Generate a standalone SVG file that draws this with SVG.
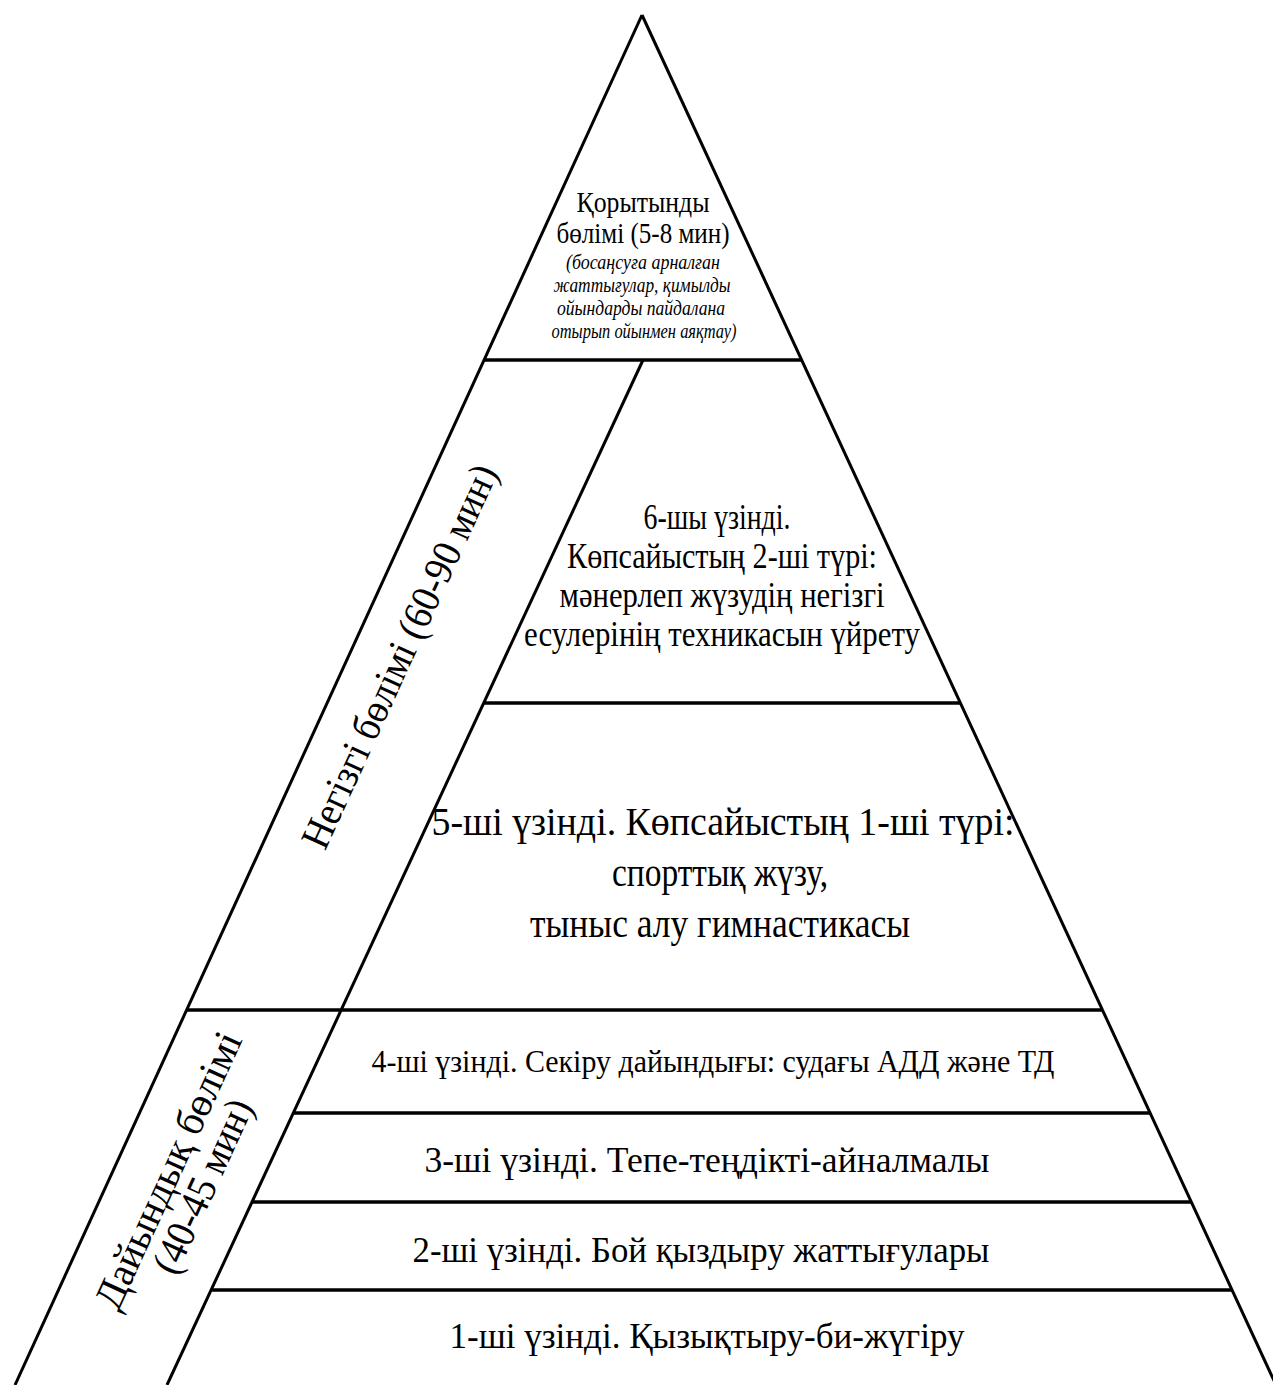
<svg xmlns="http://www.w3.org/2000/svg" width="1273" height="1385" viewBox="0 0 1273 1385">
  <style>
    .ln { stroke: #000; stroke-width: 3; fill: none; stroke-linecap: butt; }
    .hl { stroke: #000; stroke-width: 3.5; fill: none; }
    .t { font-family: "Liberation Serif", "Times New Roman", serif; fill: #000; text-anchor: middle; }
    .it { font-family: "Liberation Serif", "Times New Roman", serif; font-style: italic; fill: #000; text-anchor: middle; }
  </style>
  <rect x="0" y="0" width="1273" height="1385" fill="#fff"/>
  <g id="connectors">
    <line class="ln" x1="642" y1="15" x2="15" y2="1385"/>
    <line class="ln" x1="642" y1="15" x2="1276" y2="1385"/>
    <line class="ln" x1="643" y1="360" x2="167" y2="1385"/>
    <line class="hl" x1="484" y1="360" x2="802" y2="360"/>
    <line class="hl" x1="484" y1="703" x2="960" y2="703"/>
    <line class="hl" x1="187" y1="1010" x2="1102" y2="1010"/>
    <line class="hl" x1="293" y1="1113" x2="1150" y2="1113"/>
    <line class="hl" x1="252" y1="1202" x2="1191" y2="1202"/>
    <line class="hl" x1="211" y1="1290" x2="1232" y2="1290"/>
  </g>
  <g id="node-final">
    <text class="t" x="643" y="212" font-size="30" textLength="133" lengthAdjust="spacingAndGlyphs">Қорытынды</text>
    <text class="t" x="643" y="243" font-size="30" textLength="173" lengthAdjust="spacingAndGlyphs">бөлімі (5-8 мин)</text>
    <text class="it" x="643" y="269" font-size="21" textLength="154" lengthAdjust="spacingAndGlyphs">(босаңсуға арналған</text>
    <text class="it" x="642" y="292" font-size="21" textLength="177" lengthAdjust="spacingAndGlyphs">жаттығулар, қимылды</text>
    <text class="it" x="641" y="315" font-size="21" textLength="168" lengthAdjust="spacingAndGlyphs">ойындарды пайдалана</text>
    <text class="it" x="644" y="338" font-size="21" textLength="185" lengthAdjust="spacingAndGlyphs">отырып ойынмен аяқтау)</text>
  </g>
  <g id="node-main-label">
    <text class="t" transform="translate(399,656) rotate(-65.4)" x="0" y="14" font-size="41" textLength="417" lengthAdjust="spacingAndGlyphs">Негізгі бөлімі (60-90 мин)</text>
  </g>
  <g id="node-6">
    <text class="t" x="717" y="529" font-size="35" textLength="147" lengthAdjust="spacingAndGlyphs">6-шы үзінді.</text>
    <text class="t" x="722" y="568" font-size="35" textLength="310" lengthAdjust="spacingAndGlyphs">Көпсайыстың 2-ші түрі:</text>
    <text class="t" x="722" y="607" font-size="35" textLength="325" lengthAdjust="spacingAndGlyphs">мәнерлеп жүзудің негізгі</text>
    <text class="t" x="722" y="646" font-size="35" textLength="396" lengthAdjust="spacingAndGlyphs">есулерінің техникасын үйрету</text>
  </g>
  <g id="node-5">
    <text class="t" x="723" y="835" font-size="41" textLength="583" lengthAdjust="spacingAndGlyphs">5-ші үзінді. Көпсайыстың 1-ші түрі:</text>
    <text class="t" x="720" y="886" font-size="41" textLength="216" lengthAdjust="spacingAndGlyphs">спорттық жүзу,</text>
    <text class="t" x="720" y="937" font-size="41" textLength="380" lengthAdjust="spacingAndGlyphs">тыныс алу гимнастикасы</text>
  </g>
  <g id="node-prep-label">
    <g transform="translate(185,1178) rotate(-65.4)">
      <text class="t" x="0" y="-5" font-size="41" textLength="300" lengthAdjust="spacingAndGlyphs">Дайындық бөлімі</text>
      <text class="t" x="0" y="33" font-size="41" textLength="187" lengthAdjust="spacingAndGlyphs">(40-45 мин)</text>
    </g>
  </g>
  <g id="node-4">
    <text class="t" x="713" y="1072" font-size="32" textLength="683" lengthAdjust="spacingAndGlyphs">4-ші үзінді. Секіру дайындығы: судағы АДД және ТД</text>
  </g>
  <g id="node-3">
    <text class="t" x="707" y="1172" font-size="36" textLength="565" lengthAdjust="spacingAndGlyphs">3-ші үзінді. Тепе-теңдікті-айналмалы</text>
  </g>
  <g id="node-2">
    <text class="t" x="701" y="1262" font-size="36" textLength="577" lengthAdjust="spacingAndGlyphs">2-ші үзінді. Бой қыздыру жаттығулары</text>
  </g>
  <g id="node-1">
    <text class="t" x="707" y="1348" font-size="36" textLength="515" lengthAdjust="spacingAndGlyphs">1-ші үзінді. Қызықтыру-би-жүгіру</text>
  </g>
</svg>
